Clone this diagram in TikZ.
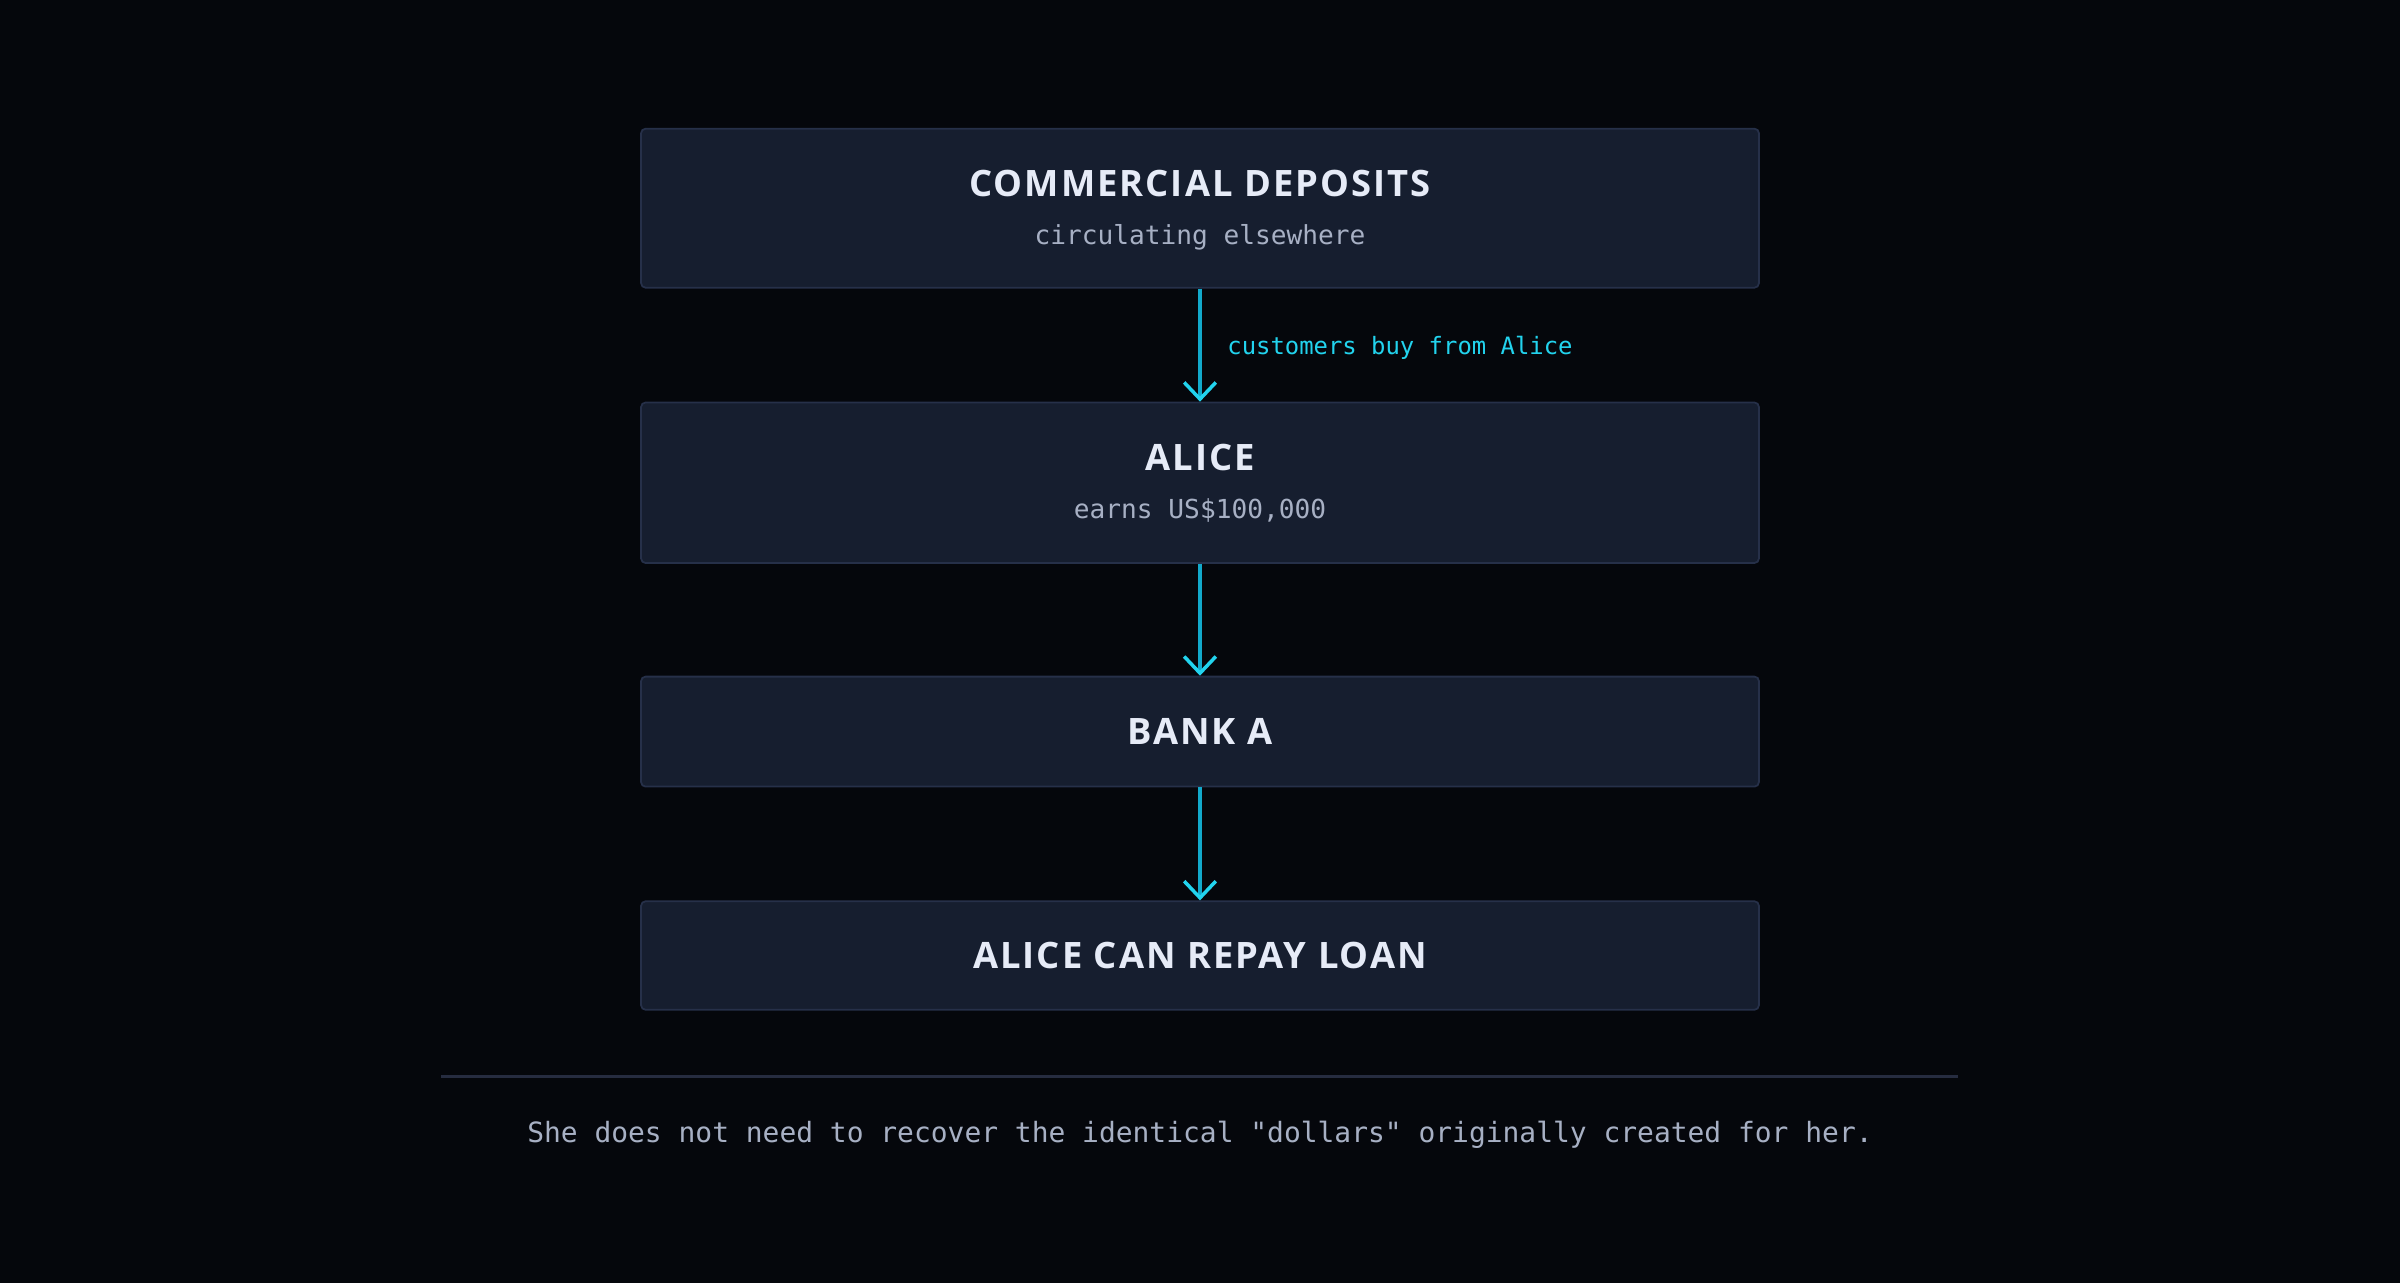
\documentclass[tikz,border=0pt]{standalone}
\usepackage{fontspec}
\setmainfont{Open Sans}
\newfontfamily\headfont{Open Sans}[LetterSpace=5.6]
\setmonofont{DejaVu Sans Mono}
\usetikzlibrary{arrows.meta,positioning}
\definecolor{bg}{HTML}{05070C}
\definecolor{boxfill}{HTML}{161E2F}
\definecolor{boxline}{HTML}{263049}
\definecolor{titletext}{HTML}{E6EBF7}
\definecolor{subtext}{HTML}{A7B0C4}
\definecolor{shaft}{HTML}{12A9CB}
\definecolor{head}{HTML}{22D3EE}
\definecolor{ruleline}{HTML}{262C40}
\tikzset{
  stage/.style={draw=boxline,fill=boxfill,line width=1pt,rounded corners=2.5pt,
    minimum width=22.36cm,inner sep=0},
  stagetitle/.style={anchor=base,inner sep=0,text=titletext,
    font=\headfont\bfseries\fontsize{20.7}{24}\selectfont},
  stagesub/.style={anchor=base,inner sep=0,text=subtext,
    font=\ttfamily\fontsize{14.9}{18}\selectfont},
  flow/.style={draw=shaft,line width=2pt,
    -{Straight Barb[length=9.5pt,width=18pt,color=head]}},
  flowlabel/.style={anchor=base west,inner sep=0,text=head,
    font=\ttfamily\fontsize{13.6}{16}\selectfont},
  rule/.style={draw=ruleline,line width=1.2pt},
  footnote/.style={anchor=base,inner sep=0,text=subtext,
    font=\ttfamily\fontsize{15.9}{19}\selectfont}
}
\newcommand{\Stage}[3]% center, name, height
{\node[stage,minimum height=#3] (#2) at (#1) {};}
\newcommand{\Title}[3]% base, name, text
{\node[stagetitle] (#2) at (#1) {#3};}
\newcommand{\Sub}[3]% base, name, text
{\node[stagesub] (#2) at (#1) {#3};}
\newcommand{\Flow}[2]%
{\draw[flow] (#1.south) -- (#2.north);}

\begin{document}
\begin{tikzpicture}[x=0.02cm,y=-0.02cm]
  \useasboundingbox (0,0) rectangle (2400,1282);
  \fill[bg] (-10,-10) rectangle (2410,1292);
  % boxes
  \Stage{1200,208.2}{deposits}{3.18cm}
  \Stage{1200,482.75}{alice}{3.21cm}
  \Stage{1200,731.6}{bank}{2.2cm}
  \Stage{1200,955.5}{repay}{2.17cm}
  % texts
  \Title{1200,196}{depositsT}{COMMERCIAL DEPOSITS}
  \Sub{1200,244}{depositsS}{circulating elsewhere}
  \Title{1200,470}{aliceT}{ALICE}
  \Sub{1200,518}{aliceS}{earns US\$100,000}
  \Title{1200,744}{bankT}{BANK A}
  \Title{1200,968}{repayT}{ALICE CAN REPAY LOAN}
  % arrows
  \Flow{deposits}{alice}
  \Flow{alice}{bank}
  \Flow{bank}{repay}
  \node[flowlabel] (buy) at (1227,354) {customers buy from Alice};
  % footer
  \coordinate (ruleL) at (441,1076.5);
  \coordinate (ruleR) at (1958,1076.5);
  \draw[rule] (ruleL) -- (ruleR);
  \node[footnote] (note) at (1200,1142) {She does not need to recover the identical "dollars" originally created for her.};
\end{tikzpicture}
\end{document}
